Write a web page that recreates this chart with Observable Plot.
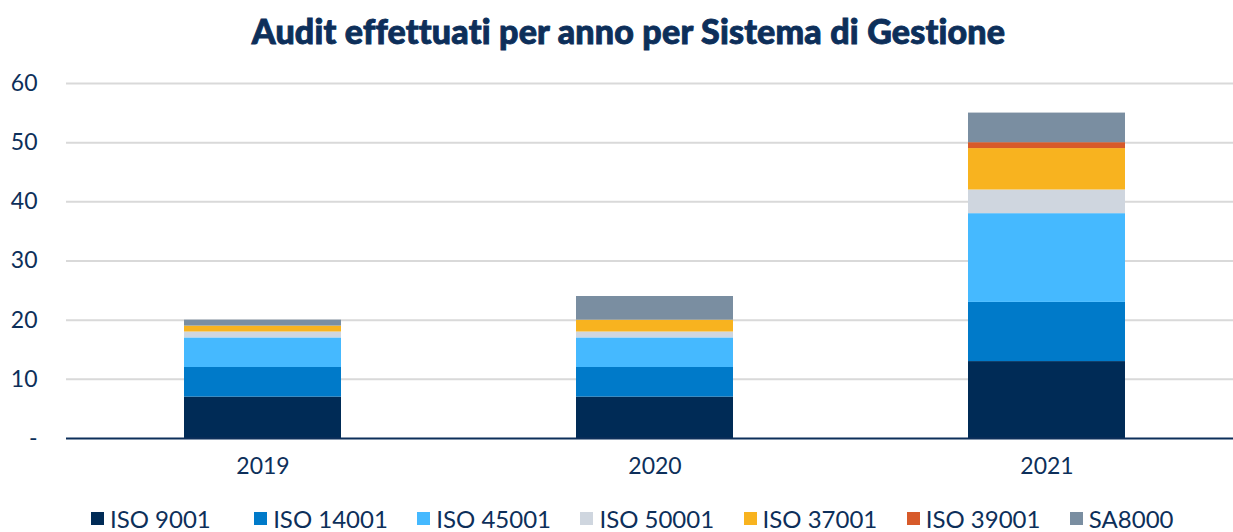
<!DOCTYPE html>
<html><head><meta charset="utf-8">
<script src="https://cdn.jsdelivr.net/npm/d3@7"></script>
<script src="https://cdn.jsdelivr.net/npm/@observablehq/plot@0.6"></script>
<style>
body{margin:0;background:#fff;font-family:Lato,"Noto Sans",sans-serif;}
#title{height:60px;line-height:62px;text-align:center;font-weight:900;font-size:34px;color:#0d2f5a;padding-left:24px;letter-spacing:0.2px;-webkit-text-stroke:0.9px #0d2f5a;}
#legend{display:flex;justify-content:flex-start;padding-left:91px;margin-top:16px;font-size:24px;color:#0d2f5a;}
#legend .item{display:flex;align-items:center;width:166px;}
#legend .sw{width:13px;height:13px;margin-right:6px;}
</style></head>
<body>
<div id="title">Audit effettuati per anno per Sistema di Gestione</div>
<div id="chart"></div>
<div id="legend"></div>
<script>
const years = ["2019","2020","2021"];
const systems = ["ISO 9001","ISO 14001","ISO 45001","ISO 50001","ISO 37001","ISO 39001","SA8000"];
const colors = ["#002b56","#007ac9","#45b9ff","#cfd6df","#f8b31f","#d75a2a","#7a8ea1"];
const iso9001 = [7,7,13];
const iso14001 = [5,5,10];
const iso45001 = [5,5,15];
const iso50001 = [1,1,4];
const iso37001 = [1,2,7];
const iso39001 = [0,0,1];
const sa8000 = [1,4,5];
const yTicks = [0,10,20,30,40,50,60];

const series = [iso9001,iso14001,iso45001,iso50001,iso37001,iso39001,sa8000];
const data = [];
years.forEach((y,i)=>systems.forEach((s,j)=>data.push({year:y,system:s,value:series[j][i]})));

const navy = "#0d2f5a";
const chart = Plot.plot({
  width:1233, height:428,
  marginLeft:66, marginRight:0, marginTop:23, marginBottom:50,
  style:{fontFamily:"Lato, 'Noto Sans', sans-serif", fontSize:"23px", color:navy},
  x:{domain:years, range:[66,1243], paddingInner:0.6, paddingOuter:0.3, label:null},
  y:{domain:[0,60], label:null},
  color:{domain:systems, range:colors},
  marks:[
    Plot.ruleY(yTicks.filter(d=>d>0), {stroke:"#d9d9d9", strokeWidth:2}),
    Plot.barY(data, {x:"year", y:"value", fill:"system", order:systems}),
    Plot.ruleY([0], {stroke:navy, strokeWidth:2}),
    Plot.axisY({ticks:yTicks, tickSize:0, tickPadding:29, tickFormat:d=>d===0?"-":d, fill:navy, fontSize:23}),
    Plot.axisX({tickSize:0, tickPadding:19, fill:navy, fontSize:23})
  ]
});
document.getElementById("chart").appendChild(chart);
const lg = document.getElementById("legend");
systems.forEach((s,j)=>{
  const it=document.createElement("div");it.className="item";
  const sw=document.createElement("div");sw.className="sw";sw.style.background=colors[j];
  const t=document.createElement("span");t.textContent=s;
  it.appendChild(sw);it.appendChild(t);lg.appendChild(it);
});
</script>
</body></html>
